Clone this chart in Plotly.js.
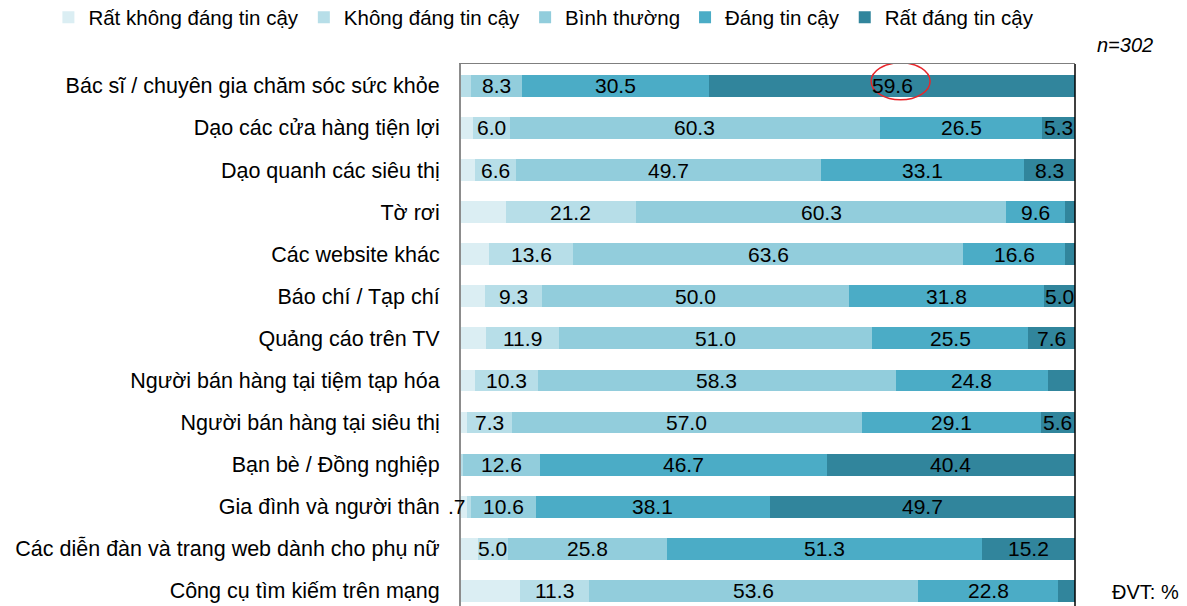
<!DOCTYPE html>
<html>
<head>
<meta charset="utf-8">
<script src="https://cdn.plot.ly/plotly-3.0.1.min.js"></script>
<style>html,body{margin:0;padding:0;background:#fff;}#chart{width:1187px;height:606px;}</style>
</head>
<body>
<div id="chart"></div>
<script>
var categories = [
  "Bác sĩ / chuyên gia chăm sóc sức khỏe",
  "Dạo các cửa hàng tiện lợi",
  "Dạo quanh các siêu thị",
  "Tờ rơi",
  "Các website khác",
  "Báo chí / Tạp chí",
  "Quảng cáo trên TV",
  "Người bán hàng tại tiệm tạp hóa",
  "Người bán hàng tại siêu thị",
  "Bạn bè / Đồng nghiệp",
  "Gia đình và người thân",
  "Các diễn đàn và trang web dành cho phụ nữ",
  "Công cụ tìm kiếm trên mạng"
];
var seriesNames = ["Rất không đáng tin cậy", "Không đáng tin cậy", "Bình thường", "Đáng tin cậy", "Rất đáng tin cậy"];
var ratKhong   = [0,    1.9, 2.3, 7.3,  4.6,  3.9,  4.0,  2.2,  1.0,  0,    0.9,  2.7,  9.6];
var khong      = [1.6,  6.0, 6.6, 21.2, 13.6, 9.3,  11.9, 10.3, 7.3,  0.3,  0.7,  5.0,  11.3];
var binhThuong = [8.3,  60.3,49.7,60.3, 63.6, 50.0, 51.0, 58.3, 57.0, 12.6, 10.6, 25.8, 53.6];
var dang       = [30.5, 26.5,33.1,9.6,  16.6, 31.8, 25.5, 24.8, 29.1, 46.7, 38.1, 51.3, 22.8];
var ratDang    = [59.6, 5.3, 8.3, 1.6,  1.6,  5.0,  7.6,  4.4,  5.6,  40.4, 49.7, 15.2, 2.7];
var colors = ["#dbeef3", "#b7dee8", "#92cddc", "#4bacc6", "#31859c"];
var seriesValues = [ratKhong, khong, binhThuong, dang, ratDang];
var showLabels = [false, true, true, true, true];
var labelMin = 5;
var sampleNote = "n=302";
var unitNote = "ĐVT: %";

var FONT = "Liberation Sans, Arial, sans-serif";
var traces = seriesValues.map(function(vals, i){
  return {
    type: "bar", orientation: "h", name: seriesNames[i],
    y: categories, x: vals,
    marker: {color: colors[i], line: {width: 0}},
    hoverinfo: "x+name"
  };
});

var annotations = [];
categories.forEach(function(cat, r){
  var cum = 0;
  seriesValues.forEach(function(vals, s){
    var v = vals[r];
    if (showLabels[s] && v >= labelMin) {
      annotations.push({x: cum + v/2, y: cat, xref: "x", yref: "y", text: v.toFixed(1),
        showarrow: false, font: {family: FONT, size: 21, color: "#000"}});
    } else if (showLabels[s] && s === 1 && v > 0.5 && v < 1) {
      annotations.push({x: cum + v, y: cat, xref: "x", yref: "y", xanchor: "right", xshift: -3,
        text: v.toFixed(1).replace(/^0/, ""), showarrow: false, font: {family: FONT, size: 21, color: "#000"}});
    }
    cum += v;
  });
});
annotations.push({xref: "paper", yref: "paper", x: 1.081, y: 1.035, xanchor: "center", yanchor: "middle",
  text: "<i>" + sampleNote + "</i>", showarrow: false, font: {family: FONT, size: 20, color: "#000"}});
annotations.push({xref: "paper", yref: "paper", x: 1.1156, y: 0.025, xanchor: "center", yanchor: "middle",
  text: unitNote, showarrow: false, font: {family: FONT, size: 20, color: "#000"}});

// highlight ellipse around the top "Rất đáng tin cậy" value
var startTop = ratKhong[0] + khong[0] + binhThuong[0] + dang[0];
var cx = startTop + ratDang[0]/2 + 1.4;
var shapes = [
  {type: "circle", xref: "x", yref: "y", x0: cx - 4.8, x1: cx + 4.8, y0: -0.55, y1: 0.33,
   line: {color: "#e8262b", width: 1.5}, fillcolor: "rgba(0,0,0,0)"},
  {type: "line", xref: "paper", yref: "paper", x0: 1, x1: 1, y0: 0, y1: 1, line: {color: "#000", width: 1.5}}
];

var layout = {
  width: 1187, height: 606,
  margin: {l: 461, r: 112, t: 64, b: 0, pad: 0, autoexpand: false},
  barmode: "stack", bargap: 0.48,
  paper_bgcolor: "#fff", plot_bgcolor: "#fff",
  font: {family: FONT, size: 21, color: "#000"},
  showlegend: true,
  legend: {orientation: "h", x: -0.672, xanchor: "left", y: 1.123, yanchor: "top",
    font: {family: FONT, size: 20.5, color: "#000"}, itemwidth: 30, traceorder: "normal",
    itemclick: false, itemdoubleclick: false},
  xaxis: {range: [0, 100], side: "top", showgrid: false, zeroline: false, showticklabels: false,
    ticks: "", showline: true, linecolor: "#7f7f7f", linewidth: 1.5, fixedrange: true, automargin: false},
  yaxis: {type: "category", range: [12.36, -0.52], showgrid: false, zeroline: false,
    ticks: "", ticklabelstandoff: 15, showline: true, linecolor: "#8c8c8c", linewidth: 2,
    tickfont: {family: FONT, size: 21.5, color: "#000"}, fixedrange: true, automargin: false},
  annotations: annotations,
  shapes: shapes
};
Plotly.newPlot("chart", traces, layout, {displayModeBar: false, staticPlot: true});
</script>
</body>
</html>
